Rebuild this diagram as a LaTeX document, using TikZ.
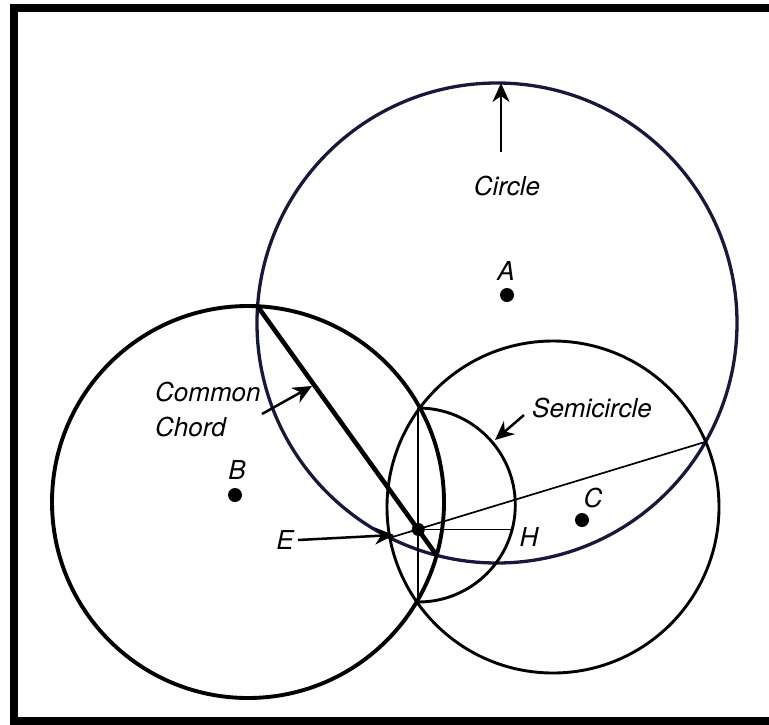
\documentclass[tikz,border=0pt]{standalone}
\usepackage{fontspec}
\setsansfont{TeX Gyre Heros}
\usetikzlibrary{arrows.meta}
\definecolor{navyline}{RGB}{24,24,60}

\begin{document}
\begin{tikzpicture}[x=1pt,y=-1pt,
  lbl/.style={font=\sffamily\itshape\fontsize{26}{35}\selectfont,inner sep=0pt},
  thinchord/.style={line width=1.7pt},
  ptr/.style={line width=2.5pt,-{Stealth[length=19pt,width=17pt,inset=6pt]}},
  dot/.style={circle,fill,inner sep=0pt,minimum size=14pt}]
\clip (0,0) rectangle (769,724);
\draw [line width=8pt] (14,8) rectangle (790,721);
% centres and meeting points
\coordinate (A) at (497,323);
\coordinate (B) at (248,502);
\coordinate (C) at (553,507);
\coordinate (ab1) at (257.5,306.2);
\coordinate (ab2) at (436.7,555.4);
\coordinate (bc1) at (418.3,408);
\coordinate (bc2) at (418.3,602);
\coordinate (ac1) at (705.6,441.8);
\coordinate (ac2) at (389.8,537.8);
\coordinate (E) at (418.3,529.5);
\coordinate (H) at (512,529.5);
\draw [line width=3.3pt,navyline] (A) circle [radius=240pt];
\draw [line width=3.9pt] (B) circle [radius=196pt];
\draw [line width=2.9pt] (C) circle [radius=166pt];
\draw [line width=4.6pt] (ab1) -- (ab2);
\draw [thinchord] (bc1) -- (bc2);
\draw [thinchord] (ac1) -- (ac2);
\draw [thinchord] (E) -- (H);
\draw [line width=2.9pt] (bc1) arc [start angle=90,end angle=-90,radius=97pt];
\node [dot] (dA) at (507,295) {};
\node [dot] (dB) at (235,495) {};
\node [dot] (dC) at (582,520) {};
\node [dot,minimum size=13pt] (dE) at (E) {};
% labels
\node [lbl] (lA) at (506,271) {A};
\node [lbl] (lB) at (237,470) {B};
\node [lbl] (lC) at (593,498) {C};
\node [lbl] (lE) at (285,540) {E};
\node [lbl] (lH) at (529,537) {H};
\node [lbl] (circ) at (507,186) {Circle};
\node [lbl,align=left,anchor=west] (cc) at (155,410) {Common\\Chord};
\node [lbl] (semi) at (592,408) {Semicircle};
% pointers
\coordinate (circtail) at (501,152);
\coordinate (circtip) at (501,83);
\coordinate (cctail) at (262,414);
\coordinate (cctip) at (312,386);
\coordinate (semitail) at (524,415);
\coordinate (semitip) at (495,440);
\coordinate (etail) at (298,540);
\coordinate (etip) at (394,535);
\draw [ptr] (circtail) -- (circtip);
\draw [ptr] (cctail) -- (cctip);
\draw [ptr] (semitail) -- (semitip);
\draw [ptr] (etail) -- (etip);
\end{tikzpicture}
\end{document}
